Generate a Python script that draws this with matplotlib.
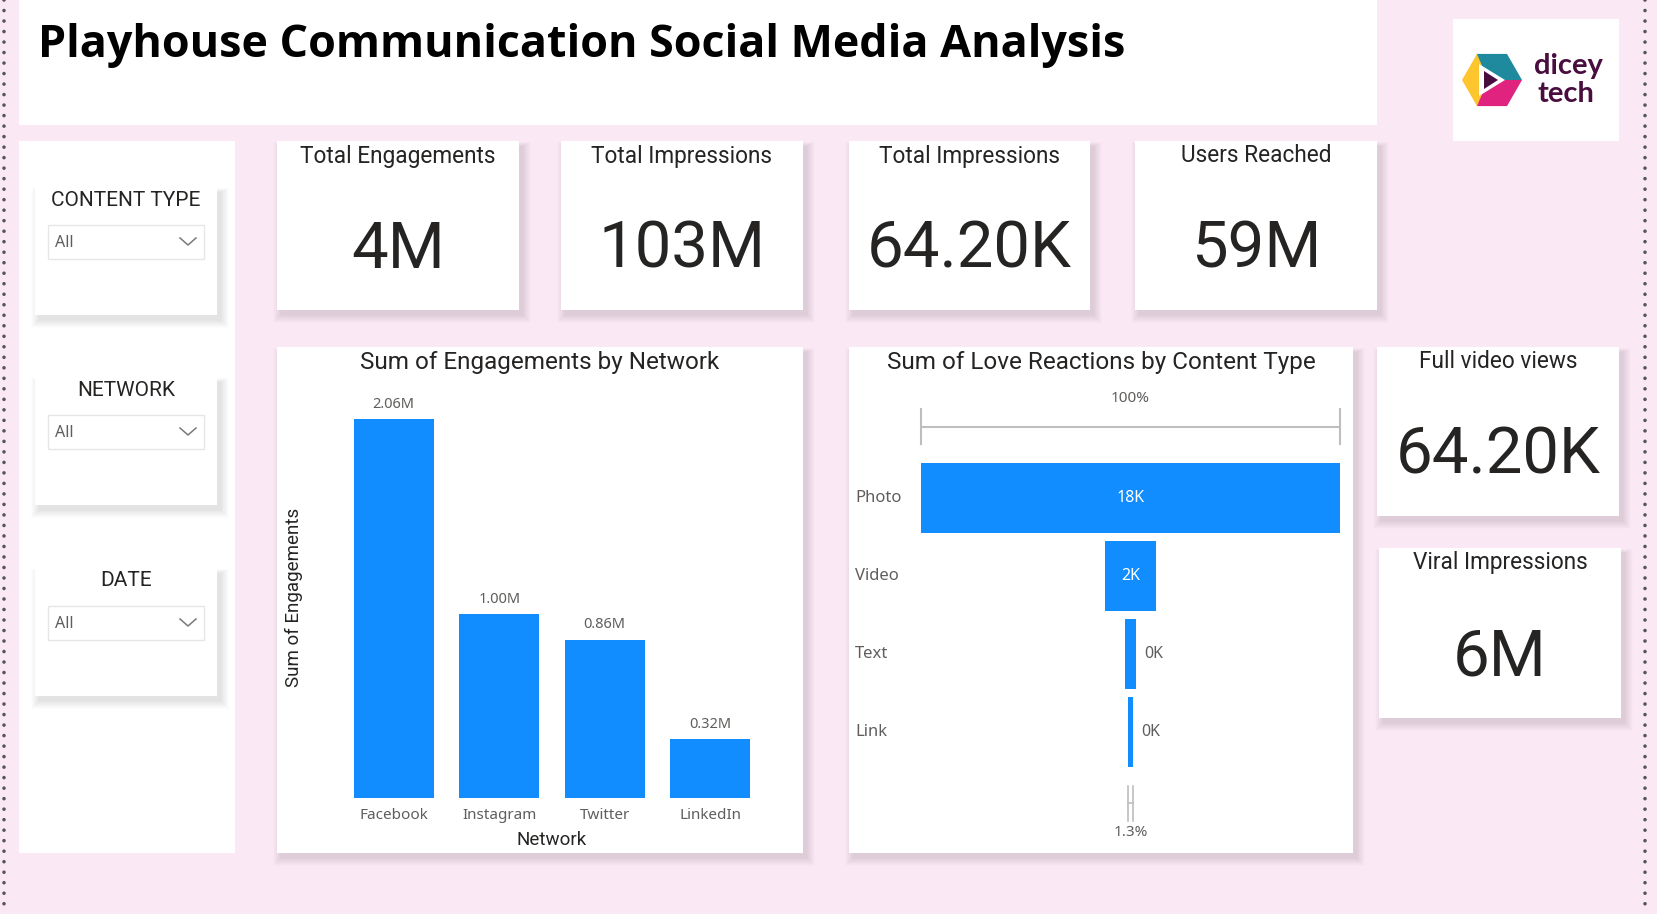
import matplotlib.pyplot as plt
from matplotlib.patches import Rectangle, Polygon
from matplotlib.transforms import blended_transform_factory

W, H = 1658, 914

networks = ['Facebook', 'Instagram', 'Twitter', 'LinkedIn']
engagements = [2.06, 1.00, 0.86, 0.32]  # millions

content_types = ['Photo', 'Video', 'Text', 'Link']
love_reactions = [17800, 2200, 450, 231]

kpi_titles = ['Total Engagements', 'Total Impressions', 'Total Impressions', 'Users Reached']
kpi_values = ['4M', '103M', '64.20K', '59M']
side_titles = ['Full video views', 'Viral Impressions']
side_values = ['64.20K', '6M']
slicer_titles = ['CONTENT TYPE', 'NETWORK', 'DATE']
slicer_values = ['All', 'All', 'All']

PINK = '#FAE9F4'
BLUE = '#118DFF'
DARK = '#252423'
GREY = '#605E5C'
DIN = 'Roboto'
SEGOE = 'Noto Sans'

fig = plt.figure(figsize=(W / 100, H / 100), dpi=100)
fig.patch.set_facecolor(PINK)

bg = fig.add_axes([0, 0, 1, 1])
bg.set_xlim(0, W)
bg.set_ylim(H, 0)
bg.axis('off')


def axes_px(x0, y0, x1, y1):
    return fig.add_axes([x0 / W, 1 - y1 / H, (x1 - x0) / W, (y1 - y0) / H])


def card(x0, y0, x1, y1, shadow=True):
    if shadow:
        for k in range(14):
            bg.add_patch(Rectangle((x0 + 4 - k * 0.6, y0 + 5 - k * 0.3), x1 - x0 + k * 1.2,
                                   y1 - y0 + k * 0.9, facecolor='black', edgecolor='none',
                                   alpha=0.009))
    bg.add_patch(Rectangle((x0, y0), x1 - x0, y1 - y0, facecolor='white', edgecolor='none'))


# dotted page borders
for xb in [4, 1645]:
    bg.plot([xb, xb], [0, H], color='#555555', lw=2.6, linestyle=(0, (0.01, 2.9)),
            dash_capstyle='round')

# title banner
card(19, 0, 1377, 125, shadow=False)
bg.text(38, 45, 'Playhouse Communication Social Media Analysis', fontsize=32.3,
        fontweight='bold', family='Open Sans', color='black', va='center', ha='left')

# logo
card(1453, 19, 1619, 141, shadow=False)
cx, cy, r = 1492, 80, 30
hexpts = [(cx - r, cy), (cx - r / 2, cy - r * 0.87), (cx + r / 2, cy - r * 0.87),
          (cx + r, cy), (cx + r / 2, cy + r * 0.87), (cx - r / 2, cy + r * 0.87)]
bg.add_patch(Polygon([hexpts[0], hexpts[1], (cx - 4, cy - 12), (cx - 4, cy + 12), hexpts[5]],
                     facecolor='#FDC62E', edgecolor='none'))
bg.add_patch(Polygon([hexpts[1], hexpts[2], hexpts[3], (cx - 4, cy)], facecolor='#1F8A9E',
                     edgecolor='none'))
bg.add_patch(Polygon([(cx - 4, cy), hexpts[3], hexpts[4], hexpts[5]], facecolor='#E0237F',
                     edgecolor='none'))
bg.add_patch(Polygon([(cx - 13, cy - 16), (cx + 13, cy), (cx - 13, cy + 16)], facecolor='white',
                     edgecolor='none'))
bg.add_patch(Polygon([(cx - 8, cy - 9), (cx + 6, cy), (cx - 8, cy + 9)], facecolor='#4A0E3E',
                     edgecolor='none'))
bg.text(1568, 66, 'dicey', fontsize=21, fontweight='bold', family='Lato', color='#4A0E3E',
        ha='center', va='center')
bg.text(1566, 94, 'tech', fontsize=21, fontweight='bold', family='Lato', color='#4A0E3E',
        ha='center', va='center')

# slicer panel
card(19, 141, 235, 853, shadow=False)
slicer_boxes = [(187, 315), (377, 505), (568, 696)]
for (y0, y1), t, v in zip(slicer_boxes, slicer_titles, slicer_values):
    card(35, y0, 217, y1)
    bg.text(126, y0 + 13, t, fontsize=15, family=DIN, color=DARK, ha='center', va='center')
    bg.add_patch(Rectangle((48, y0 + 38), 156, 34, facecolor='white', edgecolor='#E6E6E6', lw=1))
    bg.text(55, y0 + 56, v, fontsize=11.5, family=SEGOE, color=GREY, ha='left', va='center')
    bg.plot([180, 188, 196], [y0 + 51, y0 + 58, y0 + 51], color='#7A7A7A', lw=1.1)

# KPI cards
kpi_boxes = [(277, 519), (561, 803), (849, 1090), (1135, 1377)]
for (x0, x1), t, v in zip(kpi_boxes, kpi_titles, kpi_values):
    card(x0, 141, x1, 310)
    bg.text((x0 + x1) / 2, 156, t, fontsize=16.3, family=DIN, color=DARK, ha='center',
            va='center')
    bg.text((x0 + x1) / 2, 250, v, fontsize=47, family=DIN, color=DARK, ha='center', va='center')

# side cards
side_boxes = [(1377, 347, 1619, 516), (1379, 548, 1621, 718)]
for (x0, y0, x1, y1), t, v in zip(side_boxes, side_titles, side_values):
    card(x0, y0, x1, y1)
    bg.text((x0 + x1) / 2, y0 + 15, t, fontsize=16.3, family=DIN, color=DARK, ha='center',
            va='center')
    bg.text((x0 + x1) / 2, y0 + 109, v, fontsize=47, family=DIN, color=DARK, ha='center',
            va='center')

# bar chart panel
card(277, 347, 803, 853)
bg.text(540, 362, 'Sum of Engagements by Network', fontsize=17.5, family=DIN, color=DARK,
        ha='center', va='center')
ax = axes_px(341, 400, 763, 798)
ax.bar(range(len(networks)), engagements, width=0.76, color=BLUE)
ax.set_xlim(-0.5, len(networks) - 0.5)
ax.set_ylim(0, 2.06 * (798 - 400) / (798 - 419))
for i, v in enumerate(engagements):
    ax.text(i, v + 0.04, f'{v:.2f}M', ha='center', va='bottom', fontsize=10.5, family=SEGOE,
            color=GREY)
ax.set_xticks(range(len(networks)))
ax.set_xticklabels(networks, fontsize=11, family=SEGOE, color=GREY)
ax.tick_params(axis='x', length=0, pad=7)
ax.set_yticks([])
for s in ax.spines.values():
    s.set_visible(False)
ax.set_facecolor('none')
ax.set_xlabel('Network', fontsize=13.5, family=DIN, color=DARK, labelpad=6)
bg.text(294, 597, 'Sum of Engagements', rotation=90, fontsize=13.5, family=DIN, color=DARK,
        ha='center', va='center')

# funnel panel
card(849, 347, 1353, 853)
bg.text(1101, 362, 'Sum of Love Reactions by Content Type', fontsize=17.5, family=DIN,
        color=DARK, ha='center', va='center')
fx = axes_px(921, 459, 1340, 771)
top = love_reactions[0]
ypos = list(range(len(content_types)))
fx.barh(ypos, love_reactions, left=[-v / 2 for v in love_reactions], height=0.9, color=BLUE)
fx.set_xlim(-top / 2, top / 2)
fx.set_ylim(len(content_types) - 0.5, -0.5)
fx.axis('off')
tr = blended_transform_factory(fx.transAxes, fx.transData)
for i, (c, v) in enumerate(zip(content_types, love_reactions)):
    fx.text(-0.157, i, c, transform=tr, ha='left', va='center', fontsize=12, family=SEGOE,
            color=GREY)
    lab = f'{v / 1000:.0f}K'
    if v / top > 0.08:
        fx.text(0, i, lab, ha='center', va='center', fontsize=11.5, family=SEGOE, color='white')
    else:
        fx.text(v / 2 + top * 0.02, i, lab, ha='left', va='center', fontsize=11.5, family=SEGOE,
                color=GREY)
# top bracket (100%)
gc = '#BEBEBE'
fx.plot([-top / 2, top / 2], [-0.91, -0.91], color=gc, lw=1.5, clip_on=False)
for xe in [-top / 2, top / 2]:
    fx.plot([xe, xe], [-1.14, -0.69], color=gc, lw=1.5, clip_on=False)
fx.text(0, -1.27, '100%', ha='center', va='center', fontsize=11, family=SEGOE, color=GREY)
# bottom bracket (last / first)
last = love_reactions[-1]
fx.plot([-last / 2, last / 2], [3.91, 3.91], color=gc, lw=1.2, clip_on=False)
for xe in [-last / 2, last / 2]:
    fx.plot([xe, xe], [3.69, 4.14], color=gc, lw=1.2, clip_on=False)
fx.text(0, 4.29, f'{last / top * 100:.1f}%', ha='center', va='center', fontsize=11,
        family=SEGOE, color=GREY)

fig.savefig('out.png', dpi=100, facecolor=PINK)
